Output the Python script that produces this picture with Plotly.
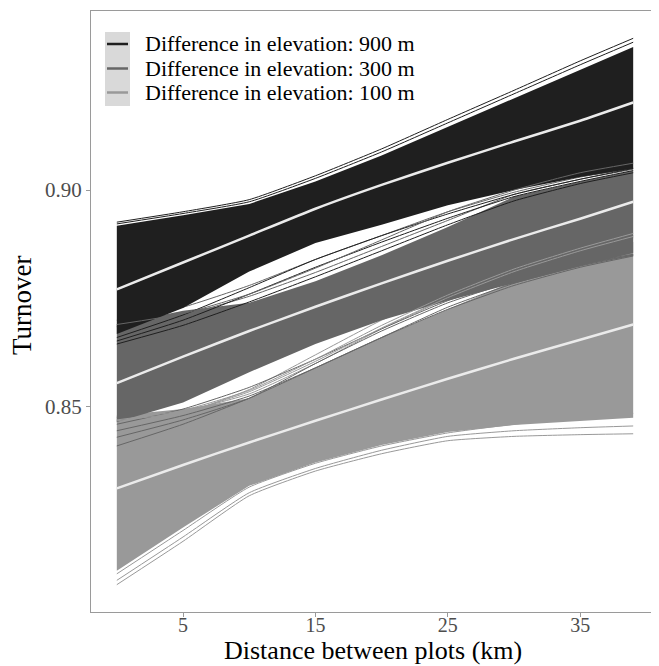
import plotly.graph_objects as go

# ---------------- data ----------------
distance_km = [0, 5, 10, 15, 20, 25, 30, 35, 39]

# posterior means (white lines)
mean_900 = [0.8771, 0.8833, 0.8895, 0.8957, 0.9012, 0.9063, 0.9112, 0.9160, 0.9202]
mean_300 = [0.8555, 0.8616, 0.8675, 0.8731, 0.8785, 0.8837, 0.8887, 0.8934, 0.8973]
mean_100 = [0.8312, 0.8366, 0.8418, 0.8468, 0.8517, 0.8565, 0.8611, 0.8655, 0.8690]

# dense band of posterior draws (upper / lower envelope)
upper_900 = [0.8918, 0.8942, 0.8968, 0.9020, 0.9080, 0.9146, 0.9212, 0.9278, 0.9330]
lower_900 = [0.8668, 0.8728, 0.8812, 0.8878, 0.8920, 0.8965, 0.9000, 0.9030, 0.9050]
upper_300 = [0.8690, 0.8722, 0.8740, 0.8790, 0.8850, 0.8915, 0.8985, 0.9020, 0.9045]
lower_300 = [0.8465, 0.8510, 0.8580, 0.8645, 0.8700, 0.8745, 0.8785, 0.8825, 0.8855]
upper_100 = [0.8480, 0.8495, 0.8520, 0.8590, 0.8660, 0.8725, 0.8790, 0.8845, 0.8880]
lower_100 = [0.8122, 0.8222, 0.8318, 0.8372, 0.8412, 0.8442, 0.8458, 0.8468, 0.8475]

# individual draws standing out of the dense bands
draws_900 = [
    [0.8926, 0.8950, 0.8978, 0.9033, 0.9095, 0.9163, 0.9230, 0.9298, 0.9350],
    [0.8922, 0.8946, 0.8973, 0.9027, 0.9088, 0.9155, 0.9222, 0.9289, 0.9341],
    [0.8660, 0.8712, 0.8775, 0.8840, 0.8895, 0.8945, 0.8990, 0.9025, 0.9050],
    [0.8652, 0.8700, 0.8760, 0.8822, 0.8880, 0.8935, 0.8985, 0.9020, 0.9045],
    [0.8645, 0.8688, 0.8742, 0.8800, 0.8860, 0.8920, 0.8975, 0.9015, 0.9040],
]
draws_300 = [
    [0.8685, 0.8712, 0.8755, 0.8810, 0.8870, 0.8930, 0.8990, 0.9025, 0.9048],
    [0.8700, 0.8730, 0.8780, 0.8840, 0.8895, 0.8950, 0.8995, 0.9030, 0.9050],
    [0.8445, 0.8480, 0.8525, 0.8590, 0.8660, 0.8730, 0.8785, 0.8825, 0.8850],
    [0.8460, 0.8495, 0.8545, 0.8610, 0.8680, 0.8745, 0.8795, 0.8830, 0.8852],
    [0.8430, 0.8470, 0.8520, 0.8600, 0.8675, 0.8740, 0.8790, 0.8828, 0.8850],
    [0.8410, 0.8460, 0.8520, 0.8590, 0.8660, 0.8725, 0.8780, 0.8822, 0.8848],
]
draws_100 = [
    [0.8475, 0.8490, 0.8530, 0.8600, 0.8680, 0.8750, 0.8810, 0.8860, 0.8890],
    [0.8465, 0.8485, 0.8540, 0.8620, 0.8700, 0.8765, 0.8820, 0.8865, 0.8895],
    [0.8090, 0.8190, 0.8295, 0.8352, 0.8392, 0.8422, 0.8432, 0.8436, 0.8438],
    [0.8100, 0.8200, 0.8302, 0.8358, 0.8400, 0.8432, 0.8445, 0.8452, 0.8456],
    [0.8115, 0.8215, 0.8315, 0.8370, 0.8410, 0.8440, 0.8460, 0.8475, 0.8485],
]
# draws that overlap the neighbouring (later drawn) band
over_100 = [
    [0.8470, 0.8492, 0.8538, 0.8610, 0.8688, 0.8758, 0.8818, 0.8866, 0.8900],
    [0.8468, 0.8488, 0.8535, 0.8605, 0.8682, 0.8752, 0.8812, 0.8860, 0.8893],
]
over_300 = [
    [0.8690, 0.8715, 0.8760, 0.8820, 0.8885, 0.8950, 0.9000, 0.9040, 0.9062],
]

legend_labels = ["Difference in elevation: 900 m",
                 "Difference in elevation: 300 m",
                 "Difference in elevation: 100 m"]
y_ticks = [0.85, 0.90]
y_tick_text = ["0.85", "0.90"]
x_ticks = [5, 15, 25, 35]

# ---------------- styles ----------------
C900, C300, C100 = "#1f1f1f", "#666666", "#999999"
WHITE = "#ebebeb"
FONT = "Liberation Serif"

fig = go.Figure()


def band(upper, lower, color):
    fig.add_trace(go.Scatter(
        x=distance_km + distance_km[::-1], y=upper + lower[::-1],
        fill="toself", fillcolor=color, mode="lines",
        line=dict(width=0, color=color), hoverinfo="skip", showlegend=False))


def draws(lines, color):
    for d in lines:
        fig.add_trace(go.Scatter(x=distance_km, y=d, mode="lines",
                                 line=dict(color=color, width=1, shape="spline", smoothing=0.5),
                                 hoverinfo="skip", showlegend=False))


band(upper_100, lower_100, C100)
draws(draws_100, C100)
band(upper_300, lower_300, C300)
draws(draws_300, C300)
draws(over_100, C100)
band(upper_900, lower_900, C900)
draws(draws_900, C900)
draws(over_300, C300)

for m in (mean_900, mean_300, mean_100):
    fig.add_trace(go.Scatter(x=distance_km, y=m, mode="lines",
                             line=dict(color=WHITE, width=2.5, shape="spline", smoothing=0.5),
                             hoverinfo="skip", showlegend=False))

# ---------------- manual legend ----------------
# page coordinates of the panel (the page body adds an 8 px offset)
OFF = 8
L, T, W, H = 91, 11, 568, 601


def px(xp):
    return (xp - L) / W


def py(yp):
    return (T + H - yp) / H


shapes = [dict(type="rect", xref="paper", yref="paper",
               x0=px(105), x1=px(130), y0=py(106), y1=py(32),
               fillcolor="#d9d9d9", line=dict(width=0), layer="above")]
annotations = []
for lab, col, yc in zip(legend_labels, (C900, C300, C100), (44, 68.5, 92.5)):
    shapes.append(dict(type="line", xref="paper", yref="paper",
                       x0=px(107), x1=px(128), y0=py(yc), y1=py(yc),
                       line=dict(color=col, width=2.5), layer="above"))
    annotations.append(dict(text=lab, xref="paper", yref="paper",
                            x=px(143), y=py(yc), xanchor="left", yanchor="middle",
                            showarrow=False, font=dict(family=FONT, size=22, color="black")))

annotations.append(dict(text="Distance between plots (km)", xref="paper", yref="paper",
                        x=px(373), y=py(650), xanchor="center", yanchor="middle", borderpad=0,
                        showarrow=False, font=dict(family=FONT, size=26, color="black")))
annotations.append(dict(text="Turnover", xref="paper", yref="paper",
                        x=px(22), y=py(305), xanchor="center", yanchor="middle", textangle=-90,
                        showarrow=False, font=dict(family=FONT, size=27, color="black")))

fig.update_layout(
    width=659 - OFF, height=666 - OFF,
    margin=dict(l=L - OFF, r=0, t=T - OFF, b=666 - T - H),
    paper_bgcolor="white", plot_bgcolor="white",
    showlegend=False, shapes=shapes, annotations=annotations,
    xaxis=dict(range=[-1.95, 40.95], tickvals=x_ticks, ticks="outside", ticklen=4,
               tickcolor="#9a9a9a", showline=True, linecolor="#9a9a9a", linewidth=1,
               mirror=True, showgrid=False, zeroline=False, ticklabelstandoff=-9,
               tickfont=dict(family=FONT, size=20, color="#4d4d4d")),
    yaxis=dict(range=[0.8027, 0.9413], tickvals=y_ticks, ticktext=y_tick_text,
               ticks="outside", ticklen=4, tickcolor="#9a9a9a", showline=True,
               linecolor="#9a9a9a", linewidth=1, mirror=False, showgrid=False,
               zeroline=False, tickfont=dict(family=FONT, size=21, color="#4d4d4d")),
)

fig.write_html("out.html")
